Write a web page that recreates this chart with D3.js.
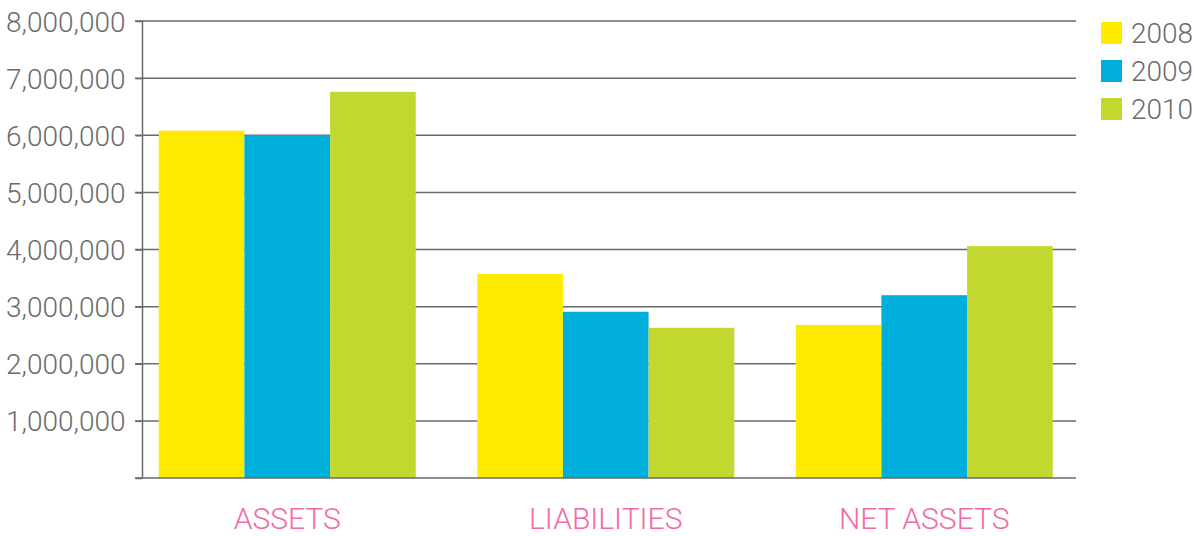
<!DOCTYPE html>
<html>
<head>
<meta charset="utf-8">
<script src="https://cdn.jsdelivr.net/npm/d3@7"></script>
<style>
  body { margin: 0; background: #fff; }
  svg text { font-family: Roboto, "Open Sans", sans-serif; }
</style>
</head>
<body>
<svg id="chart" width="1194" height="536"></svg>
<script>
const categories = ["ASSETS", "LIABILITIES", "NET ASSETS"];
const years = ["2008", "2009", "2010"];
const values2008 = [6080000, 3570000, 2680000];
const values2009 = [6000000, 2910000, 3200000];
const values2010 = [6760000, 2630000, 4060000];
const yTicks = [1000000, 2000000, 3000000, 4000000, 5000000, 6000000, 7000000, 8000000];
const colors = ["#ffeb00", "#00aedb", "#c2d730"];

const series = [values2008, values2009, values2010];
const data = categories.map((c, i) => ({
  cat: c,
  vals: years.map((y, j) => ({ year: y, value: series[j][i] }))
}));

const svg = d3.select("#chart");
const plotLeft = 142.5, plotRight = 1076, plotTop = 21, plotBottom = 478;

const y = d3.scaleLinear().domain([0, 8000000]).range([plotBottom, plotTop]);
const x0 = d3.scaleBand().domain(categories).range([128, 1083.5])
  .paddingInner(0.193).paddingOuter(0.0965);
const x1 = d3.scaleBand().domain(years).range([0, x0.bandwidth()]);
const color = d3.scaleOrdinal().domain(years).range(colors);

// gridlines
svg.append("g").selectAll("line").data(yTicks).enter().append("line")
  .attr("x1", 135).attr("x2", plotRight)
  .attr("y1", d => y(d)).attr("y2", d => y(d))
  .attr("stroke", "#6a6a6a").attr("stroke-width", 1.5);

// bars
const groups = svg.append("g").selectAll("g").data(data).enter().append("g")
  .attr("transform", d => `translate(${x0(d.cat)},0)`);
groups.selectAll("rect").data(d => d.vals).enter().append("rect")
  .attr("x", d => x1(d.year)).attr("width", x1.bandwidth())
  .attr("y", d => y(d.value)).attr("height", d => y(0) - y(d.value))
  .attr("fill", d => color(d.year));

// y axis
const yAxis = svg.append("g").attr("transform", `translate(${plotLeft},0)`)
  .call(d3.axisLeft(y).tickValues(yTicks.concat([0])).tickSize(7).tickPadding(10)
    .tickFormat(d => d === 0 ? "" : d3.format(",")(d)));
yAxis.select(".domain").attr("stroke", "#6a6a6a").attr("stroke-width", 1.5)
  .attr("d", `M0,${plotTop}V${plotBottom}`);
yAxis.selectAll(".tick line").attr("stroke", "#6a6a6a").attr("stroke-width", 1.5);
yAxis.selectAll(".tick text").attr("fill", "#6b6b6b")
  .style("font-size", "28px").style("font-weight", 300).attr("dy", "0.36em");

// baseline
svg.append("line").attr("x1", 135).attr("x2", plotRight)
  .attr("y1", y(0)).attr("y2", y(0))
  .attr("stroke", "#6a6a6a").attr("stroke-width", 1.5);

// category labels
svg.append("g").selectAll("text").data(categories).enter().append("text")
  .attr("x", d => x0(d) + x0.bandwidth() / 2).attr("y", 529)
  .attr("text-anchor", "middle").attr("fill", "#f36aa7")
  .style("font-size", "30px").style("font-weight", 300)
  .text(d => d);

// legend
const legend = svg.append("g").selectAll("g").data(years).enter().append("g")
  .attr("transform", (d, i) => `translate(1101,${22 + i * 38})`);
legend.append("rect").attr("width", 21).attr("height", 22).attr("fill", d => color(d));
legend.append("text").attr("x", 30).attr("y", 11).attr("dy", "0.36em")
  .attr("fill", "#6b6b6b").style("font-size", "28px").style("font-weight", 300)
  .text(d => d);
</script>
</body>
</html>
